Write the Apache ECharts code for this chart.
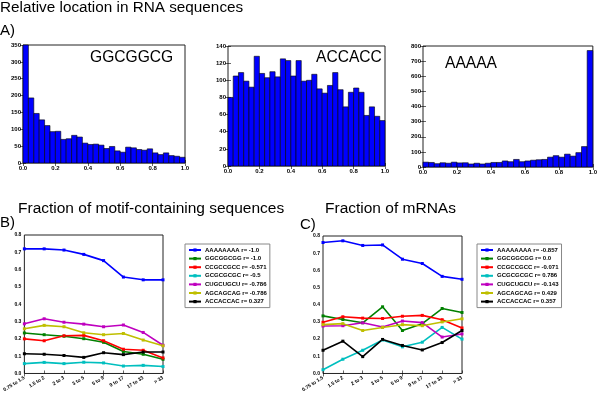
<!DOCTYPE html>
<html><head><meta charset="utf-8">
<script src="https://cdn.jsdelivr.net/npm/echarts@6/dist/echarts.min.js"></script>
<style>html,body{margin:0;padding:0;background:#fff}#c{width:600px;height:394px}</style>
</head><body><div id="c"></div>
<script>
// ---- Data ----
const histTicks = [0, 0.2, 0.4, 0.6, 0.8, 1.0];
const ggcgByBin = [350,193,147,128,111,93,94,70,72,82,77,59,55,56,53,43,49,36,32,47,45,40,38,42,30,25,30,22,20,17];
const accaccByBin = [80,105,109,99,92,128,108,103,110,104,125,123,105,123,99,100,107,90,85,94,109,89,69,86,91,86,59,69,58,53];
const aaaaaByBin = [32,30,22,28,25,32,27,28,20,25,20,25,30,30,40,35,50,35,40,45,48,50,65,75,65,85,72,95,135,770];

const sizeBins = ["0.75 to 1.5","1.5 to 2","2 to 3","3 to 5","5 to 9","9 to 17","17 to 33","> 33"];
const motifs = ["AAAAAAAA","GGCGGCGG","CCGCCGCC","GCGCGCGC","CUGCUGCU","AGCAGCAG","ACCACCAC"];
const motifColors = ["#0000ff","#008000","#ff0000","#00bfbf","#bf00bf","#bfbf00","#000000"];

const rB = ["-1.0","-1.0","-0.571","-0.5","-0.786","-0.786","0.327"];
const fracSeqB_AAAAAAAA = [0.720,0.720,0.713,0.688,0.652,0.557,0.541,0.541];
const fracSeqB_GGCGGCGG = [0.234,0.224,0.215,0.201,0.180,0.127,0.111,0.082];
const fracSeqB_CCGCCGCC = [0.200,0.189,0.218,0.220,0.189,0.140,0.134,0.090];
const fracSeqB_GCGCGCGC = [0.057,0.064,0.057,0.065,0.061,0.043,0.047,0.040];
const fracSeqB_CUGCUGCU = [0.287,0.316,0.296,0.285,0.270,0.280,0.237,0.163];
const fracSeqB_AGCAGCAG = [0.258,0.278,0.270,0.235,0.224,0.231,0.193,0.160];
const fracSeqB_ACCACCAC = [0.114,0.111,0.104,0.093,0.120,0.109,0.124,0.124];

const rC = ["-0.857","0.0","-0.071","0.786","-0.143","0.429","0.357"];
const fracMrnaC_AAAAAAAA = [0.762,0.772,0.745,0.748,0.665,0.640,0.565,0.548];
const fracMrnaC_GGCGGCGG = [0.335,0.314,0.295,0.388,0.250,0.290,0.378,0.355];
const fracMrnaC_CCGCCGCC = [0.298,0.330,0.322,0.320,0.333,0.338,0.313,0.265];
const fracMrnaC_GCGCGCGC = [0.022,0.083,0.135,0.195,0.155,0.182,0.268,0.200];
const fracMrnaC_CUGCUGCU = [0.276,0.278,0.295,0.270,0.305,0.296,0.212,0.230];
const fracMrnaC_AGCAGCAG = [0.284,0.290,0.250,0.268,0.284,0.278,0.300,0.318];
const fracMrnaC_ACCACCAC = [0.135,0.188,0.098,0.198,0.163,0.137,0.180,0.250];

const seriesB = [fracSeqB_AAAAAAAA,fracSeqB_GGCGGCGG,fracSeqB_CCGCCGCC,fracSeqB_GCGCGCGC,fracSeqB_CUGCUGCU,fracSeqB_AGCAGCAG,fracSeqB_ACCACCAC];
const seriesC = [fracMrnaC_AAAAAAAA,fracMrnaC_GGCGGCGG,fracMrnaC_CCGCCGCC,fracMrnaC_GCGCGCGC,fracMrnaC_CUGCUGCU,fracMrnaC_AGCAGCAG,fracMrnaC_ACCACCAC];

// ---- Chart ----
const chart = echarts.init(document.getElementById('c'), null, {renderer:'canvas'});
const FONT = 'Liberation Sans, Arial, sans-serif';
const tickLbl = {fontSize:6, fontWeight:'bold', color:'#000', fontFamily:FONT};

const grids = [
  {left:23, top:45, width:162, height:118},
  {left:228, top:46, width:157, height:120},
  {left:423, top:46, width:171, height:121},
  {left:23, top:235, width:140, height:139},
  {left:323, top:236, width:139, height:140}
].map(g => Object.assign({show:true, borderColor:'#222', borderWidth:1, backgroundColor:'#fff', containLabel:false}, g));

const xAxes = [], yAxes = [];
const histMax = [350, 140, 800], histInt = [50, 20, 100];
for (let k = 0; k < 3; k++) {
  xAxes.push({type:'value', gridIndex:k, min:0, max:1, interval:0.2,
    axisLine:{show:false}, splitLine:{show:false},
    axisTick:{inside:true, length:3, lineStyle:{color:'#000', width:0.6}},
    axisLabel:Object.assign({margin:2, formatter:v=>v.toFixed(1), showMinLabel:true, showMaxLabel:true}, tickLbl)});
  xAxes.push({type:'value', gridIndex:k, position:'top', min:0, max:1, interval:0.2,
    axisLine:{show:false}, splitLine:{show:false}, axisLabel:{show:false},
    axisTick:{inside:true, length:3, lineStyle:{color:'#000', width:0.6}}});
  yAxes.push({type:'value', gridIndex:k, min:0, max:histMax[k], interval:histInt[k],
    axisLine:{show:false}, splitLine:{show:false},
    axisTick:{inside:true, length:3, lineStyle:{color:'#000', width:0.6}},
    axisLabel:Object.assign({margin:2}, tickLbl)});
  yAxes.push({type:'value', gridIndex:k, position:'right', min:0, max:histMax[k], interval:histInt[k],
    axisLine:{show:false}, splitLine:{show:false}, axisLabel:{show:false},
    axisTick:{inside:true, length:3, lineStyle:{color:'#000', width:0.6}}});
}
for (let k = 3; k < 5; k++) {
  xAxes.push({type:'category', gridIndex:k, data:sizeBins, boundaryGap:false,
    axisLine:{show:false}, splitLine:{show:false},
    axisTick:{inside:true, length:3, alignWithLabel:true, lineStyle:{color:'#000', width:0.6}},
    axisLabel:Object.assign({margin:4, rotate:32, interval:0}, tickLbl, {fontSize:5})});
  xAxes.push({type:'category', gridIndex:k, data:sizeBins, boundaryGap:false, position:'top',
    axisLine:{show:false}, splitLine:{show:false}, axisLabel:{show:false},
    axisTick:{inside:true, length:3, lineStyle:{color:'#000', width:0.6}}});
  yAxes.push({type:'value', gridIndex:k, min:0, max:0.8, interval:0.1,
    axisLine:{show:false}, splitLine:{show:false},
    axisTick:{inside:true, length:3, lineStyle:{color:'#000', width:0.6}},
    axisLabel:Object.assign({margin:3, formatter:v=>v.toFixed(1)}, tickLbl, {fontSize:5})});
  yAxes.push({type:'value', gridIndex:k, position:'right', min:0, max:0.8, interval:0.1,
    axisLine:{show:false}, splitLine:{show:false}, axisLabel:{show:false},
    axisTick:{inside:true, length:3, lineStyle:{color:'#000', width:0.6}}});
}

function histSeries(k, arr) {
  const n = arr.length;
  return {type:'custom', xAxisIndex:2*k, yAxisIndex:2*k,
    data: arr.map((v,i) => [i/n, (i+1)/n, v]),
    encode:{x:[0,1], y:2},
    renderItem:(params, api) => {
      const p0 = api.coord([api.value(0), 0]);
      const p1 = api.coord([api.value(1), api.value(2)]);
      return {type:'rect', shape:{x:p0[0], y:p1[1], width:p1[0]-p0[0], height:p0[1]-p1[1]},
        style:{fill:'#0000ff', stroke:'#000', lineWidth:0.6}};
    }};
}

const series = [histSeries(0, ggcgByBin), histSeries(1, accaccByBin), histSeries(2, aaaaaByBin)];
const namesB = motifs.map((m,i) => m + ' r= ' + rB[i]);
const namesC = motifs.map((m,i) => m + ' r= ' + rC[i]);
function lineSeries(k, names, arrs) {
  arrs.forEach((arr, i) => {
    series.push({type:'line', name:names[i], xAxisIndex:2*k, yAxisIndex:2*k, data:arr,
      symbol:'rect', symbolSize:3, showSymbol:true, animation:false,
      lineStyle:{color:motifColors[i], width:1.6}, itemStyle:{color:motifColors[i]}});
  });
}
lineSeries(3, namesB, seriesB);
lineSeries(4, namesC, seriesC);

const legendCommon = {orient:'vertical', borderColor:'#888', borderWidth:1, backgroundColor:'#fff',
  padding:[3,3,3,3], itemGap:2.6, itemWidth:12, itemHeight:4, selectedMode:false,
  textStyle:{fontSize:6, fontWeight:'bold', color:'#000', fontFamily:FONT, padding:[0,0,0,-1]}};

const bigText = {fontFamily:FONT, fontWeight:'normal', color:'#000'};
chart.setOption({
  animation:false,
  backgroundColor:'#fff',
  title:[
    {text:'Relative location in RNA sequences', left:0, top:0, padding:0, textStyle:Object.assign({fontSize:15.3}, bigText)},
    {text:'A)', left:0, top:23, padding:0, textStyle:Object.assign({fontSize:15}, bigText)},
    {text:'Fraction of motif-containing sequences', left:18, top:201, padding:0, textStyle:Object.assign({fontSize:15.5}, bigText)},
    {text:'Fraction of mRNAs', left:325, top:201, padding:0, textStyle:Object.assign({fontSize:15.5}, bigText)},
    {text:'B)', left:0, top:215, padding:0, textStyle:Object.assign({fontSize:15}, bigText)},
    {text:'C)', left:300, top:217, padding:0, textStyle:Object.assign({fontSize:15}, bigText)},
    {text:'GGCGGCG', left:90, top:50, padding:0, textStyle:Object.assign({fontSize:15.6}, bigText)},
    {text:'ACCACC', left:316, top:50, padding:0, textStyle:Object.assign({fontSize:15.6}, bigText)},
    {text:'AAAAA', left:445, top:56, padding:0, textStyle:Object.assign({fontSize:15.6}, bigText)}
  ],
  grid:grids, xAxis:xAxes, yAxis:yAxes,
  legend:[
    Object.assign({left:185, top:244, data:namesB}, legendCommon),
    Object.assign({left:477, top:244, data:namesC}, legendCommon)
  ],
  series:series
});
</script></body></html>
